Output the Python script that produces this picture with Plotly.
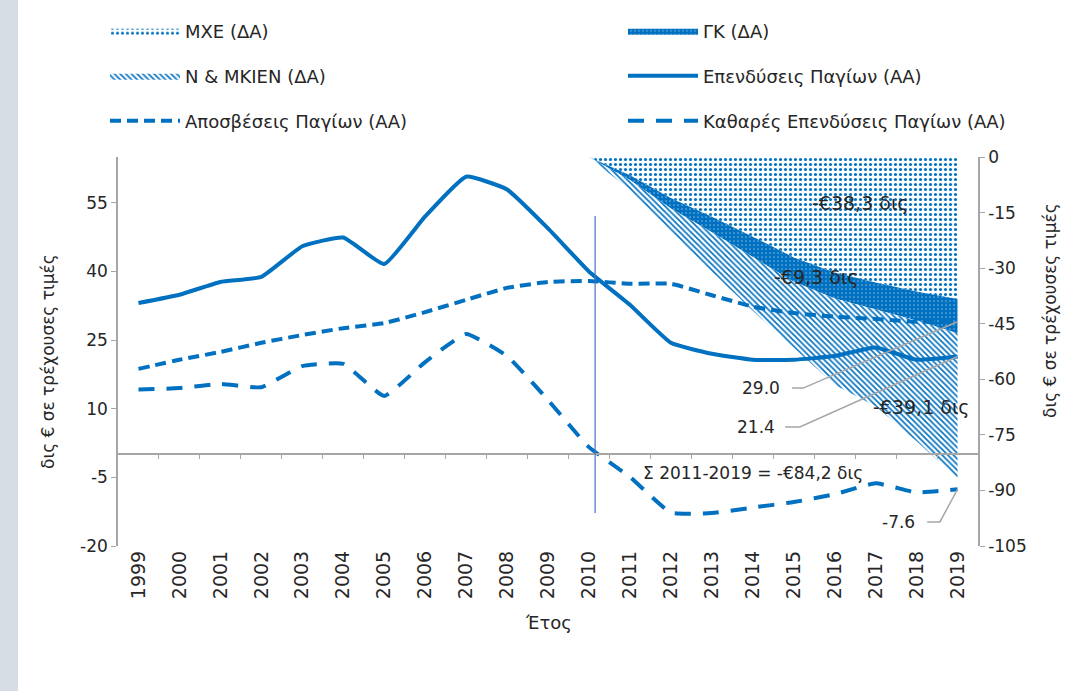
import plotly.graph_objects as go

# ---------------- data ----------------
years = list(range(1999, 2020))
investment = [33.1, 34.9, 37.7, 38.8, 45.5, 47.4, 41.6, 52.0, 60.7, 57.9, 49.4, 40.0,
              32.7, 24.4, 22.0, 20.7, 20.7, 21.5, 23.4, 20.7, 21.4]
depreciation = [18.7, 20.7, 22.4, 24.4, 26.1, 27.6, 28.7, 31.1, 33.8, 36.4, 37.7, 37.9,
                37.3, 37.3, 34.8, 32.3, 30.9, 30.1, 29.6, 29.0, 29.0]
net_investment = [14.2, 14.5, 15.4, 14.7, 19.3, 19.8, 12.8, 20.2, 26.3, 21.5, 11.9, 1.6,
                  -4.9, -12.7, -12.8, -11.6, -10.4, -8.7, -6.3, -8.3, -7.6]

area_years = list(range(2010, 2020))
cum_mxe = [0, -4.9, -11.1, -16.1, -21.5, -27.1, -31.2, -33.9, -36.3, -38.3]
cum_gk = [0, -1.3, -2.8, -4.2, -5.5, -6.6, -7.0, -7.3, -7.8, -9.3]
cum_nmkien = [0, -2.7, -6.3, -10.7, -14.5, -17.9, -23.3, -26.1, -32.6, -39.1]

divider_year = 2010.15
divider_span = [-12.8, 52.1]

left_ticks = [-20, -5, 10, 25, 40, 55]
right_ticks = [-105, -90, -75, -60, -45, -30, -15, 0]
left_range = [-20, 65]
right_range = [-105, 0]

names = ["ΜΧΕ (ΔΑ)", "ΓΚ (ΔΑ)", "Ν & ΜΚΙΕΝ (ΔΑ)", "Επενδύσεις Παγίων (ΑΑ)",
         "Αποσβέσεις Παγίων (ΑΑ)", "Καθαρές Επενδύσεις Παγίων (ΑΑ)"]

BLUE = "#0070C0"
GREY = "#A6A6A6"
TXT = "#262626"
FONT = "DejaVu Sans"

fig = go.Figure()

# stacked cumulative areas (right axis, primary y)
fig.add_trace(go.Scatter(
    x=area_years, y=cum_mxe, name=names[0], stackgroup="s", mode="lines",
    line=dict(width=0, color=BLUE), fillcolor="white",
    fillpattern=dict(shape=".", size=5, solidity=0.3, fgcolor=BLUE, fgopacity=1, bgcolor="white"),
    legend="legend", hoverinfo="skip"))
fig.add_trace(go.Scatter(
    x=area_years, y=cum_gk, name=names[1], stackgroup="s", mode="lines",
    line=dict(width=0, color=BLUE), fillcolor="white",
    fillpattern=dict(shape=".", size=4, solidity=0.85, fgcolor=BLUE, fgopacity=1, bgcolor="white"),
    legend="legend2", hoverinfo="skip"))
fig.add_trace(go.Scatter(
    x=area_years, y=cum_nmkien, name=names[2], stackgroup="s", mode="lines",
    line=dict(width=0, color=BLUE), fillcolor="white",
    fillpattern=dict(shape="\\", size=4, solidity=0.4, fgcolor=BLUE, fgopacity=1, bgcolor="white"),
    legend="legend3", hoverinfo="skip"))

# lines (left axis)
fig.add_trace(go.Scatter(
    x=years, y=investment, name=names[3], mode="lines", xaxis="x2", yaxis="y2",
    line=dict(color=BLUE, width=4, shape="spline", smoothing=0.4), legend="legend4"))
fig.add_trace(go.Scatter(
    x=years, y=depreciation, name=names[4], mode="lines", xaxis="x2", yaxis="y2",
    line=dict(color=BLUE, width=4, dash="11px,6px", shape="spline", smoothing=0.4),
    legend="legend5"))
fig.add_trace(go.Scatter(
    x=years, y=net_investment, name=names[5], mode="lines", xaxis="x2", yaxis="y2",
    line=dict(color=BLUE, width=4, dash="16px,12px", shape="spline", smoothing=0.4),
    legend="legend6"))

L, R, T, B = 118, 102, 157, 145
W, H = 1080, 691
pw, ph = W - L - R, H - T - B

def px_x(p):
    return (p - L) / pw

def px_y(p):
    return (H - B - p) / ph

def leg(xp, yp):
    return dict(orientation="h", xanchor="left", yanchor="middle", x=px_x(xp), y=px_y(yp),
                itemwidth=70, font=dict(family=FONT, size=18, color=TXT),
                bgcolor="rgba(0,0,0,0)")

col1, col2 = 105, 623
rows = [31, 76, 121]

fig.update_layout(
    width=W, height=H,
    margin=dict(l=L, r=R, t=T, b=B),
    paper_bgcolor="white", plot_bgcolor="white",
    font=dict(family=FONT, size=17, color=TXT),
    legend=leg(col1, rows[0]),
    legend2=leg(col2, rows[0]),
    legend3=leg(col1, rows[1]),
    legend4=leg(col2, rows[1]),
    legend5=leg(col1, rows[2]),
    legend6=leg(col2, rows[2]),
    xaxis=dict(range=[1998.5, 2019.5], tickvals=years, ticktext=[str(y) for y in years],
               tickangle=-90, showline=False, ticks="", showgrid=False, zeroline=False,
               tickfont=dict(size=19, color=TXT)),
    xaxis2=dict(overlaying="x", anchor="free",
                position=(0 - left_range[0]) / (left_range[1] - left_range[0]),
                range=[1998.5, 2019.5], tickvals=[y + 0.5 for y in years[:-1]],
                showticklabels=False, ticks="outside", ticklen=4, tickcolor=GREY,
                showline=True, linecolor=GREY, linewidth=1.5, showgrid=False, zeroline=False),
    yaxis=dict(side="right", range=right_range, tickvals=right_ticks,
               ticktext=[str(v) for v in right_ticks], showline=True, linecolor=GREY,
               linewidth=1.5, ticks="outside", ticklen=5, tickcolor=GREY,
               showgrid=False, zeroline=False, tickfont=dict(size=17, color=TXT)),
    yaxis2=dict(overlaying="y", side="left", anchor="x", range=left_range, tickvals=left_ticks,
                ticktext=[str(v) for v in left_ticks], showline=True, linecolor=GREY,
                linewidth=1.5, ticks="outside", ticklen=5, tickcolor=GREY,
                showgrid=False, zeroline=False, tickfont=dict(size=17, color=TXT)),
    showlegend=True,
)

# left decorative strip
fig.add_shape(type="rect", xref="paper", yref="paper", x0=px_x(0), x1=px_x(18),
              y0=px_y(H), y1=px_y(0), fillcolor="#D7DDE5", line=dict(width=0), layer="below")

# divider line
fig.add_shape(type="line", xref="x", yref="y2", x0=divider_year, x1=divider_year,
              y0=divider_span[0], y1=divider_span[1], line=dict(color="#4A6FC4", width=1.2))

# axis titles
fig.add_annotation(text="δις € σε τρέχουσες τιμές", xref="paper", yref="paper",
                   x=px_x(48), y=px_y(362), xanchor="center", yanchor="middle",
                   textangle=-90, showarrow=False, font=dict(size=17, color=TXT))
fig.add_annotation(text="δις € σε τρέχουσες τιμές", xref="paper", yref="paper",
                   x=px_x(1050), y=px_y(311), xanchor="center", yanchor="middle",
                   textangle=-90, showarrow=False, font=dict(size=17, color=TXT))
fig.add_annotation(text="Έτος", xref="paper", yref="paper", x=0.5, y=px_y(622),
                   xanchor="center", yanchor="middle",
                   showarrow=False, font=dict(size=18, color=TXT))

# area labels
fig.add_annotation(text="-€38,3 δις", xref="x", yref="y", x=2016.62, y=-12.4,
                   showarrow=False, font=dict(size=19, color=TXT))
fig.add_annotation(text="-€9,3 δις", xref="x", yref="y", x=2015.55, y=-32.4,
                   showarrow=False, font=dict(size=19, color=TXT))
fig.add_annotation(text="-€39,1 δις", xref="x", yref="y", x=2018.11, y=-67.5,
                   showarrow=False, font=dict(size=19, color=TXT))
fig.add_annotation(text="Σ 2011-2019 = -€84,2 δις", xref="x", yref="y2", x=2014.01, y=-4.0,
                   showarrow=False, font=dict(size=17, color=TXT))

# value labels with elbow leaders
last = len(years) - 1
leaders = [
    (f"{depreciation[last]:.1f}", 2014.71, 14.5, 2014.96, 2015.23, depreciation[last]),
    (f"{investment[last]:.1f}", 2014.59, 6.0, 2014.79, 2015.15, investment[last]),
    (f"{net_investment[last]:.1f}", 2018.01, -14.75, 2018.26, 2018.57, net_investment[last]),
]
for txt, tx, ty, e0, e1, val in leaders:
    fig.add_annotation(text=txt, xref="x", yref="y2", x=tx, y=ty, xanchor="right",
                       showarrow=False, font=dict(size=17, color=TXT))
    fig.add_shape(type="path", xref="x", yref="y2",
                  path=f"M {e0},{ty} L {e1},{ty} L {years[last]},{val}",
                  line=dict(color=GREY, width=1.5))

fig.write_html("out.html", config={"displayModeBar": False},
               post_script="document.body.style.margin='0px';")
